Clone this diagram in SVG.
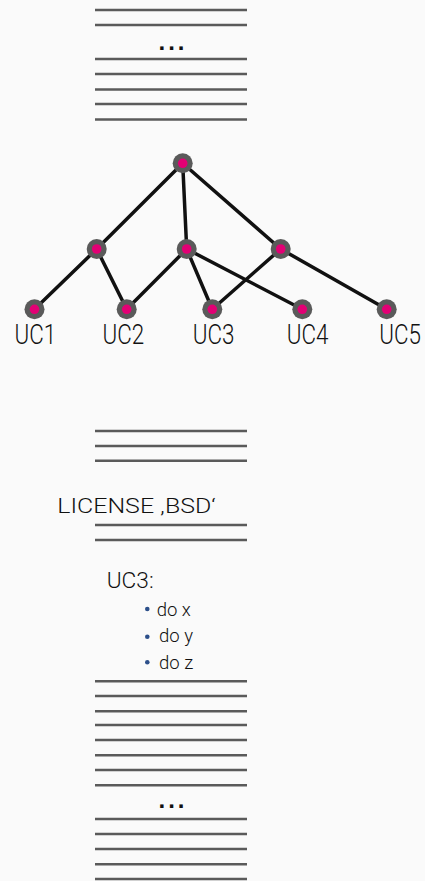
<svg xmlns="http://www.w3.org/2000/svg" width="425" height="881" viewBox="0 0 425 881">
<style>
.rule{stroke:#5a5a5a;stroke-width:2.5}
.edge{stroke:#111;stroke-width:3.5;fill:none;stroke-linecap:round}
.outer{fill:#5a5a5a}
.inner{fill:#e20074}
.lbl{font-family:Roboto,"Liberation Sans",sans-serif;font-weight:300;fill:#111}
.uc{font-size:27px;text-anchor:middle}
.dots{font-family:"Liberation Sans",sans-serif;font-weight:bold;font-size:24px;letter-spacing:3px;fill:#111}
.bul{fill:#2c4f8a}
</style>
<rect width="425" height="881" fill="#fafafa"/>
<g id="rules-top">
<line class="rule" x1="95" y1="10" x2="247" y2="10"/>
<line class="rule" x1="95" y1="25" x2="247" y2="25"/>
<text class="dots" x="173" y="50" text-anchor="middle">...</text>
<line class="rule" x1="95" y1="59" x2="247" y2="59"/>
<line class="rule" x1="95" y1="74" x2="247" y2="74"/>
<line class="rule" x1="95" y1="89.5" x2="247" y2="89.5"/>
<line class="rule" x1="95" y1="104" x2="247" y2="104"/>
<line class="rule" x1="95" y1="119.5" x2="247" y2="119.5"/>
</g>
<g id="connectors">
<line class="edge" x1="182.7" y1="163.3" x2="96.7" y2="249"/>
<line class="edge" x1="182.7" y1="163.3" x2="186.7" y2="249"/>
<line class="edge" x1="182.7" y1="163.3" x2="280.7" y2="249"/>
<line class="edge" x1="96.7" y1="249" x2="34.5" y2="309.3"/>
<line class="edge" x1="96.7" y1="249" x2="126.7" y2="309.3"/>
<line class="edge" x1="186.7" y1="249" x2="126.7" y2="309.3"/>
<line class="edge" x1="186.7" y1="249" x2="212.3" y2="309.3"/>
<line class="edge" x1="186.7" y1="249" x2="302.3" y2="309.3"/>
<line class="edge" x1="280.7" y1="249" x2="212.3" y2="309.3"/>
<line class="edge" x1="280.7" y1="249" x2="386.7" y2="309.3"/>
</g>
<g id="n-root"><circle class="outer" cx="182.7" cy="163.3" r="10"/><circle class="inner" cx="182.7" cy="163.3" r="4.8"/></g>
<g id="n-m1"><circle class="outer" cx="96.7" cy="249" r="10"/><circle class="inner" cx="96.7" cy="249" r="4.8"/></g>
<g id="n-m2"><circle class="outer" cx="186.7" cy="249" r="10"/><circle class="inner" cx="186.7" cy="249" r="4.8"/></g>
<g id="n-m3"><circle class="outer" cx="280.7" cy="249" r="10"/><circle class="inner" cx="280.7" cy="249" r="4.8"/></g>
<g id="n-uc1"><circle class="outer" cx="34.5" cy="309.3" r="10"/><circle class="inner" cx="34.5" cy="309.3" r="4.8"/><text class="lbl uc" transform="matrix(0.83 0 0 1 35.3 344)">UC1</text></g>
<g id="n-uc2"><circle class="outer" cx="126.7" cy="309.3" r="10"/><circle class="inner" cx="126.7" cy="309.3" r="4.8"/><text class="lbl uc" transform="matrix(0.83 0 0 1 123.3 344)">UC2</text></g>
<g id="n-uc3"><circle class="outer" cx="212.3" cy="309.3" r="10"/><circle class="inner" cx="212.3" cy="309.3" r="4.8"/><text class="lbl uc" transform="matrix(0.83 0 0 1 213.5 344)">UC3</text></g>
<g id="n-uc4"><circle class="outer" cx="302.3" cy="309.3" r="10"/><circle class="inner" cx="302.3" cy="309.3" r="4.8"/><text class="lbl uc" transform="matrix(0.83 0 0 1 307.5 344)">UC4</text></g>
<g id="n-uc5"><circle class="outer" cx="386.7" cy="309.3" r="10"/><circle class="inner" cx="386.7" cy="309.3" r="4.8"/><text class="lbl uc" transform="matrix(0.83 0 0 1 400 344)">UC5</text></g>
<g id="rules-mid">
<line class="rule" x1="95" y1="431" x2="247" y2="431"/>
<line class="rule" x1="95" y1="446" x2="247" y2="446"/>
<line class="rule" x1="95" y1="460.7" x2="247" y2="460.7"/>
<text class="lbl" x="57.3" y="513" font-size="21" textLength="158.4" lengthAdjust="spacingAndGlyphs">LICENSE ,BSD‘</text>
<line class="rule" x1="95" y1="525" x2="247" y2="525"/>
<line class="rule" x1="95" y1="540" x2="247" y2="540"/>
</g>
<g id="uc3-detail">
<text class="lbl" x="106.7" y="588.3" font-size="22" textLength="47" lengthAdjust="spacingAndGlyphs">UC3:</text>
<circle class="bul" cx="147.3" cy="609" r="2.3"/>
<text class="lbl" x="156.7" y="616" font-size="18.5">do x</text>
<circle class="bul" cx="147.3" cy="636.7" r="2.3"/>
<text class="lbl" x="159" y="641.7" font-size="18.5">do y</text>
<circle class="bul" cx="147.3" cy="662.3" r="2.3"/>
<text class="lbl" x="159" y="669" font-size="18.5">do z</text>
</g>
<g id="rules-bottom">
<line class="rule" x1="95" y1="681.3" x2="247" y2="681.3"/>
<line class="rule" x1="95" y1="696" x2="247" y2="696"/>
<line class="rule" x1="95" y1="711.3" x2="247" y2="711.3"/>
<line class="rule" x1="95" y1="725" x2="247" y2="725"/>
<line class="rule" x1="95" y1="740" x2="247" y2="740"/>
<line class="rule" x1="95" y1="755.3" x2="247" y2="755.3"/>
<line class="rule" x1="95" y1="770" x2="247" y2="770"/>
<line class="rule" x1="95" y1="785.3" x2="247" y2="785.3"/>
<text class="dots" x="173" y="807.5" text-anchor="middle">...</text>
<line class="rule" x1="95" y1="819" x2="247" y2="819"/>
<line class="rule" x1="95" y1="834" x2="247" y2="834"/>
<line class="rule" x1="95" y1="849" x2="247" y2="849"/>
<line class="rule" x1="95" y1="864.3" x2="247" y2="864.3"/>
<line class="rule" x1="95" y1="879" x2="247" y2="879"/>
</g>
</svg>
